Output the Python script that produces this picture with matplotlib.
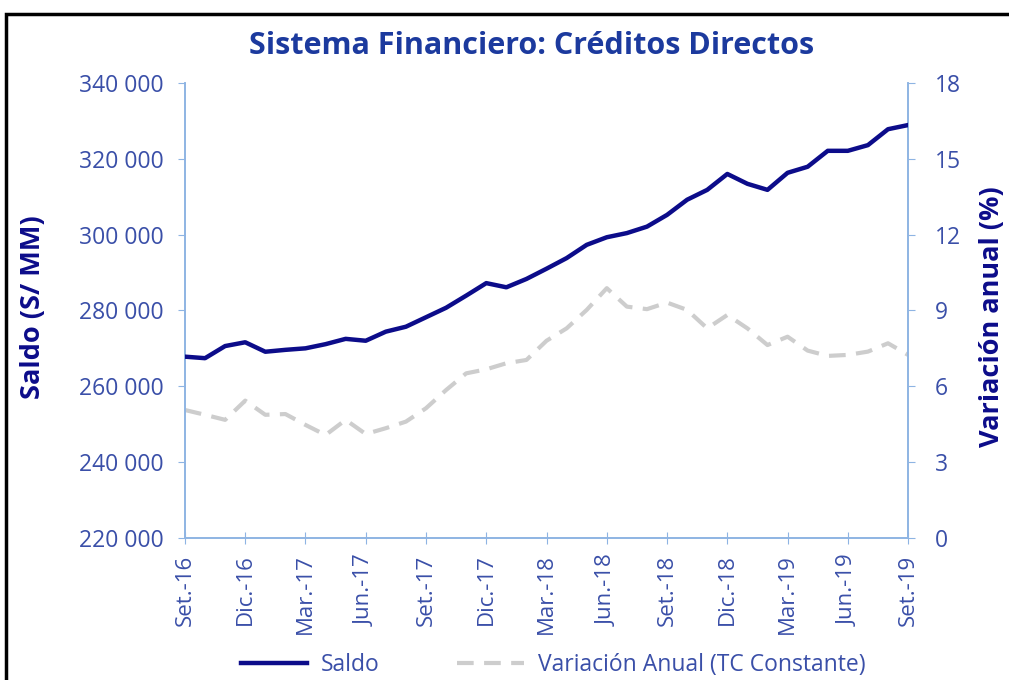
import numpy as np
import matplotlib
matplotlib.use('Agg')
import matplotlib.pyplot as plt
from matplotlib.ticker import FuncFormatter, FixedLocator
from matplotlib.patches import Rectangle

plt.rcParams['font.family'] = ['Open Sans', 'DejaVu Sans']

# monthly data, Set.-16 .. Set.-19
months = ['Set.-16', 'Oct.-16', 'Nov.-16', 'Dic.-16', 'Ene.-17', 'Feb.-17', 'Mar.-17',
          'Abr.-17', 'May.-17', 'Jun.-17', 'Jul.-17', 'Ago.-17', 'Set.-17', 'Oct.-17',
          'Nov.-17', 'Dic.-17', 'Ene.-18', 'Feb.-18', 'Mar.-18', 'Abr.-18', 'May.-18',
          'Jun.-18', 'Jul.-18', 'Ago.-18', 'Set.-18', 'Oct.-18', 'Nov.-18', 'Dic.-18',
          'Ene.-19', 'Feb.-19', 'Mar.-19', 'Abr.-19', 'May.-19', 'Jun.-19', 'Jul.-19',
          'Ago.-19', 'Set.-19']
saldo = [267800, 267400, 270600, 271600, 269100, 269600, 270000, 271100, 272500,
         272000, 274400, 275700, 278200, 280700, 283900, 287200, 286100, 288300,
         291000, 293800, 297300, 299300, 300400, 302100, 305200, 309200, 311800,
         316000, 313400, 311800, 316300, 317900, 322100, 322100, 323600, 327800,
         328900]
variacion = [5.06, 4.87, 4.67, 5.43, 4.87, 4.9, 4.47, 4.07, 4.67, 4.11, 4.34, 4.6,
             5.13, 5.85, 6.51, 6.67, 6.91, 7.04, 7.8, 8.29, 9.02, 9.88, 9.15, 9.05,
             9.31, 9.02, 8.29, 8.82, 8.29, 7.63, 7.96, 7.41, 7.2, 7.24, 7.37, 7.7, 7.24]

navy = '#0C0C8A'
title_c = '#1C3A9E'
blue_txt = '#3A4FA8'
spine_c = '#8EB4E3'
gray = '#CDCDCD'

fig = plt.figure(figsize=(10.09, 6.80), dpi=100)
ax = fig.add_axes([0.1833, 0.209, 0.7167, 0.669])
ax2 = ax.twinx()

x = np.arange(len(months))
l1, = ax.plot(x, saldo, color=navy, lw=3.2, label='Saldo', zorder=3)
l2, = ax2.plot(x, variacion, color=gray, lw=3, ls=(0, (4, 2.5)),
               label='Variación Anual (TC Constante)', zorder=2)
ax.set_zorder(ax2.get_zorder() + 1)
ax.patch.set_visible(False)

ax.set_xlim(0, len(months) - 1)
ax.set_ylim(220000, 340000)
ax2.set_ylim(0, 18)
ax.set_yticks(np.arange(220000, 340001, 20000))
ax2.set_yticks(np.arange(0, 19, 3))
ax.yaxis.set_major_formatter(FuncFormatter(lambda v, p: f'{int(v):,}'.replace(',', ' ')))

ticks = x[::3]
ax.xaxis.set_major_locator(FixedLocator(ticks))
ax.set_xticklabels([months[i] for i in ticks], rotation=90)

for a in (ax, ax2):
    for s in a.spines.values():
        s.set_color(spine_c)
        s.set_linewidth(1.2)
    a.spines['top'].set_visible(False)
ax.tick_params(axis='y', colors=spine_c, labelcolor=blue_txt, labelsize=16.5, length=5, pad=10)
ax2.tick_params(axis='y', colors=spine_c, labelcolor=blue_txt, labelsize=16.5, length=5, pad=14)
ax.tick_params(axis='x', colors=spine_c, labelcolor=blue_txt, labelsize=16,
               direction='inout', length=8, pad=8)

fig.text(0.033, 0.548, 'Saldo (S/ MM)', rotation=90, ha='center', va='center',
         color=navy, fontsize=19.5, fontweight='bold')
fig.text(0.983, 0.535, 'Variación anual (%)', rotation=90, ha='center', va='center',
         color=navy, fontsize=19.5, fontweight='bold')

fig.text(0.527, 0.933, 'Sistema Financiero: Créditos Directos', ha='center', va='center',
         color=title_c, fontsize=22, fontweight='bold')

fig.legend(handles=[l1, l2], loc='center', bbox_to_anchor=(0.548, 0.022), ncol=2,
           frameon=False, fontsize=16.5, labelcolor=blue_txt, handlelength=2.9,
           handletextpad=0.6, columnspacing=3.4)

fig.patches.append(Rectangle((0.006, -0.1), 1.1, 1.08, transform=fig.transFigure,
                             fill=False, edgecolor='black', lw=2.5))

fig.savefig('out.png', dpi=100)
